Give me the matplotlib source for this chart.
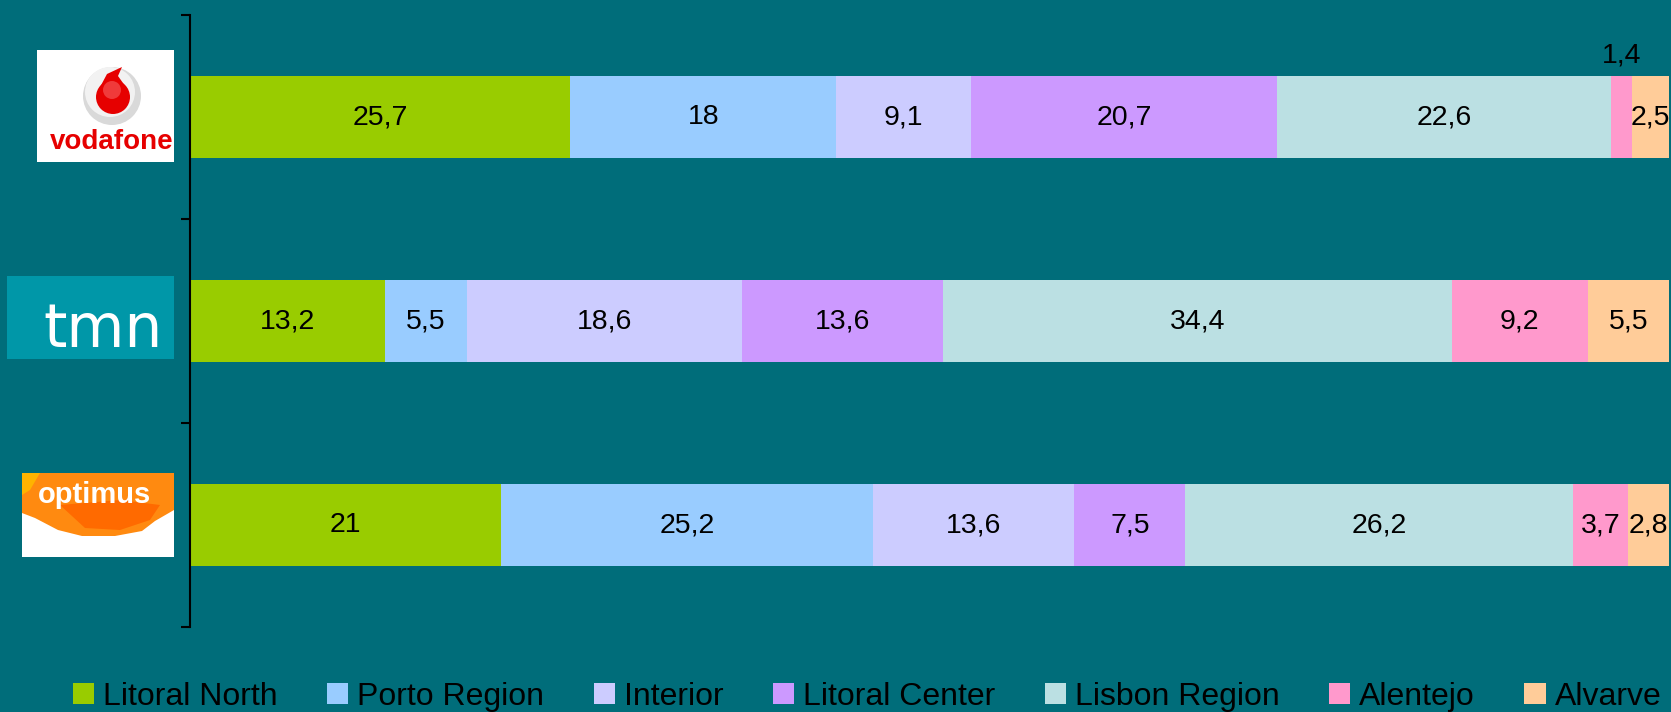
import matplotlib
matplotlib.use("Agg")
import matplotlib.pyplot as plt
from matplotlib.patches import Rectangle, Circle, Polygon, Patch
import numpy as np

plt.rcParams['font.family'] = ['Liberation Sans', 'DejaVu Sans']

# ---------------- data ----------------
operators = ["vodafone", "tmn", "optimus"]
regions = ["Litoral North", "Porto Region", "Interior", "Litoral Center",
           "Lisbon Region", "Alentejo", "Alvarve"]
vodafone = [25.7, 18, 9.1, 20.7, 22.6, 1.4, 2.5]
tmn = [13.2, 5.5, 18.6, 13.6, 34.4, 9.2, 5.5]
optimus = [21, 25.2, 13.6, 7.5, 26.2, 3.7, 2.8]
region_colors = ["#99CC00", "#99CCFF", "#CCCCFF", "#CC99FF",
                 "#BBE0E3", "#FF99CC", "#FFCC99"]
BG = "#006D7A"

values = np.array([vodafone, tmn, optimus])

W, H = 1671, 712
fig = plt.figure(figsize=(W / 100, H / 100), dpi=100, facecolor=BG)
ax = fig.add_axes([190 / W, (H - 627) / H, 1479 / W, 612 / H], facecolor=BG)

ypos = np.arange(len(operators))
left = np.zeros(len(operators))
bar_h = 0.40
for j, reg in enumerate(regions):
    vals = values[:, j]
    ax.barh(ypos, vals, left=left, height=bar_h, color=region_colors[j],
            edgecolor="none", label=reg)
    for i, (v, l) in enumerate(zip(vals, left)):
        txt = f"{v:g}".replace(".", ",")
        cx = l + v / 2
        if v < 2:
            ax.annotate(txt, (cx, ypos[i] - bar_h / 2), xytext=(0, 15),
                        textcoords="offset points", ha="center", va="center",
                        fontsize=20.5, color="black", annotation_clip=False)
        else:
            ax.text(cx, ypos[i], txt, ha="center", va="center", fontsize=20.5,
                    color="black", clip_on=False)
    left += vals

ax.set_xlim(0, 100)
ax.set_ylim(2.5, -0.5)
ax.set_yticks([-0.5, 0.5, 1.5, 2.5])
ax.set_yticklabels([])
ax.tick_params(axis="y", direction="out", length=6.5, width=1.5, color="black")
ax.set_xticks([])
for s in ["top", "right", "bottom"]:
    ax.spines[s].set_visible(False)
ax.spines["left"].set_linewidth(1.5)
ax.spines["left"].set_color("black")

# ---------------- legend ----------------
handles = [Patch(facecolor=c, edgecolor="none") for c in region_colors]
fig.legend(handles, regions, ncol=7, loc="center",
           bbox_to_anchor=(0.519, 1 - 697 / H), frameon=False, fontsize=23,
           handlelength=0.66, handleheight=0.62, handletextpad=0.28,
           columnspacing=1.55, borderpad=0, borderaxespad=0)

# ---------------- logos (pixel overlay) ----------------
ov = fig.add_axes([0, 0, 1, 1], zorder=5)
ov.set_xlim(0, W)
ov.set_ylim(H, 0)
ov.axis("off")
ov.patch.set_alpha(0)

# vodafone
ov.add_patch(Rectangle((37, 50), 137, 112, facecolor="white", edgecolor="none"))
ov.add_patch(Circle((112, 96), 29, facecolor="#D9D9D9", edgecolor="none"))
ov.add_patch(Circle((110, 92), 25, facecolor="#F2F2F2", edgecolor="none"))
ov.add_patch(Circle((113, 97), 17, facecolor="#E60000", edgecolor="none"))
ov.add_patch(Polygon([(99, 89), (107, 74), (122, 67), (118, 76), (128, 90)],
                     closed=True, facecolor="#E60000", edgecolor="none"))
ov.add_patch(Circle((112, 90), 9, facecolor="#F03A3A", edgecolor="none"))
ov.text(50, 149, "vodafone", color="#E60000", fontsize=20, fontweight="bold",
        ha="left", va="baseline")

# tmn
ov.add_patch(Rectangle((7, 276), 167, 83, facecolor="#0097A8", edgecolor="none"))
ov.text(43, 347, "tmn", color="white", fontsize=43, family="DejaVu Sans",
        ha="left", va="baseline")

# optimus
ov.add_patch(Rectangle((22, 473), 152, 84, facecolor="white", edgecolor="none"))
ov.add_patch(Polygon([(22, 473), (174, 473), (174, 510), (155, 521), (142, 531),
                      (115, 536), (82, 536), (58, 530), (35, 518), (22, 513)],
                     closed=True, facecolor="#FF8A10", edgecolor="none"))
ov.add_patch(Polygon([(60, 505), (120, 500), (160, 505), (150, 520), (120, 530),
                      (85, 528)], closed=True, facecolor="#FF6A00",
                     edgecolor="none"))
ov.add_patch(Polygon([(22, 473), (40, 473), (30, 490), (22, 495)], closed=True,
                     facecolor="#FFB300", edgecolor="none"))
ov.text(38, 503, "optimus", color="white", fontsize=21, fontweight="bold",
        ha="left", va="baseline")

fig.savefig("out.png", dpi=100, facecolor=BG)
